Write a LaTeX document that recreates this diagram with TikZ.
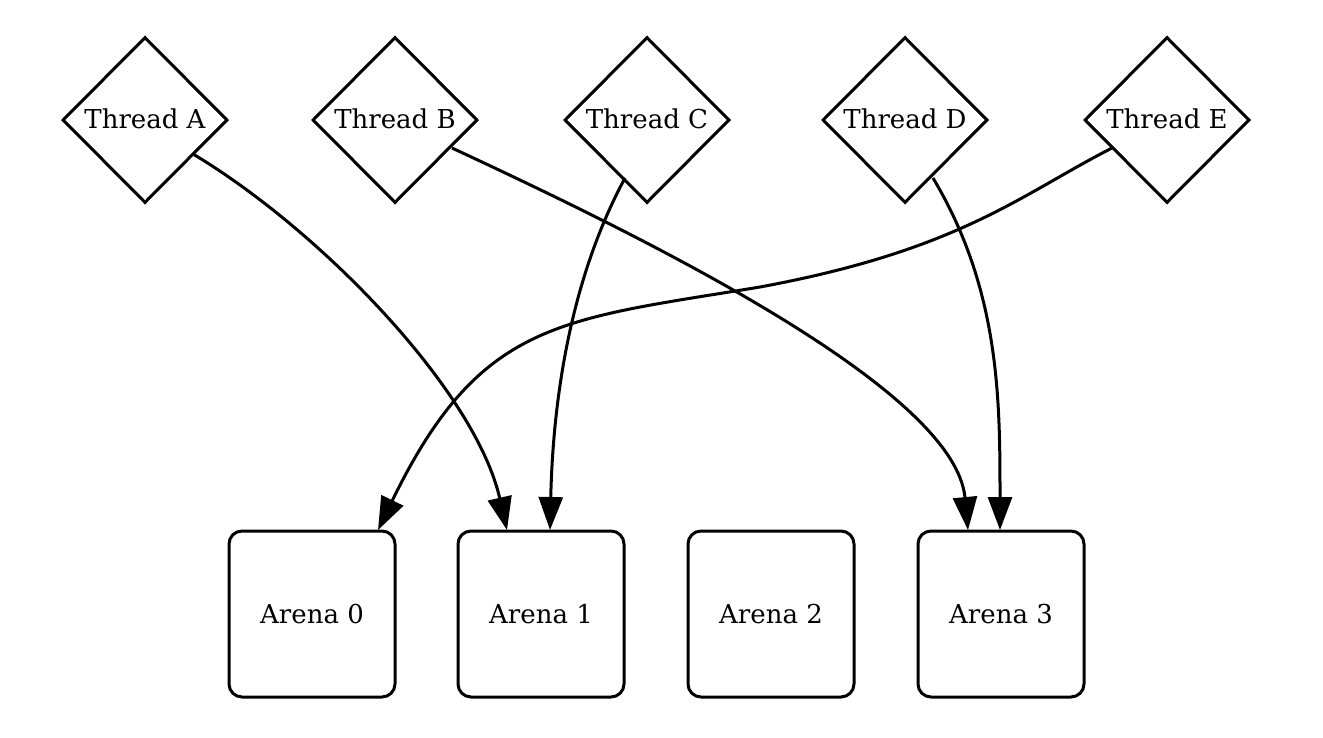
\documentclass[tikz,border=0pt]{standalone}
\usepackage{fontspec}
\setmainfont{DejaVu Serif}
\usetikzlibrary{shapes.geometric,arrows.meta}
\begin{document}
\begin{tikzpicture}[x=1pt,y=-1pt,
  every node/.style={font=\fontsize{26}{30}\selectfont},
  thread/.style={draw,line width=3pt,diamond,shape aspect=1,inner sep=0pt,
    minimum width=165pt,minimum height=166pt},
  arena/.style={draw,line width=3pt,rounded corners=13pt,inner sep=0pt,
    minimum width=166pt,minimum height=166pt},
  link/.style={line width=3pt,-{Triangle[length=33pt,width=24pt]}}]
  \useasboundingbox (0,0) rectangle (1323,737);
  % thread diamonds
  \node[thread] (tA) at (145,120) {\raisebox{3pt}{Thread A}};
  \node[thread] (tB) at (395,120) {\raisebox{3pt}{Thread B}};
  \node[thread] (tC) at (647,120) {\raisebox{3pt}{Thread C}};
  \node[thread] (tD) at (905,120) {\raisebox{3pt}{Thread D}};
  \node[thread] (tE) at (1167,120) {\raisebox{3pt}{Thread E}};
  % arenas
  \node[arena] (a0) at (312,614) {Arena 0};
  \node[arena] (a1) at (541,614) {Arena 1};
  \node[arena] (a2) at (771,614) {Arena 2};
  \node[arena] (a3) at (1001,614) {Arena 3};
  % end points on the node borders
  \coordinate (sA) at (193,154);
  \coordinate (sB) at (452,148);
  \coordinate (sC) at (625,178);
  \coordinate (sD) at (933,178);
  \coordinate (sE) at (1112,148);
  \coordinate (eA) at (507,530);
  \coordinate (eB) at (968,530);
  \coordinate (eC) at (550,530);
  \coordinate (eD) at (1000,530);
  \coordinate (eE) at (378,530);
  \coordinate (mE) at (760,287);
  % assignments
  \draw[link] (sA) .. controls (320,230) and (475,390) .. (eA);
  \draw[link] (sB) .. controls (650,240) and (955,390) .. (eB);
  \draw[link] (sC) .. controls (570,280) and (553,400) .. (eC);
  \draw[link] (sD) .. controls (1000,290) and (1000,400) .. (eD);
  \draw[link] (sE) .. controls (1020,195) and (960,250) .. (mE)
              .. controls (560,320) and (480,320) .. (eE);
\end{tikzpicture}
\end{document}
